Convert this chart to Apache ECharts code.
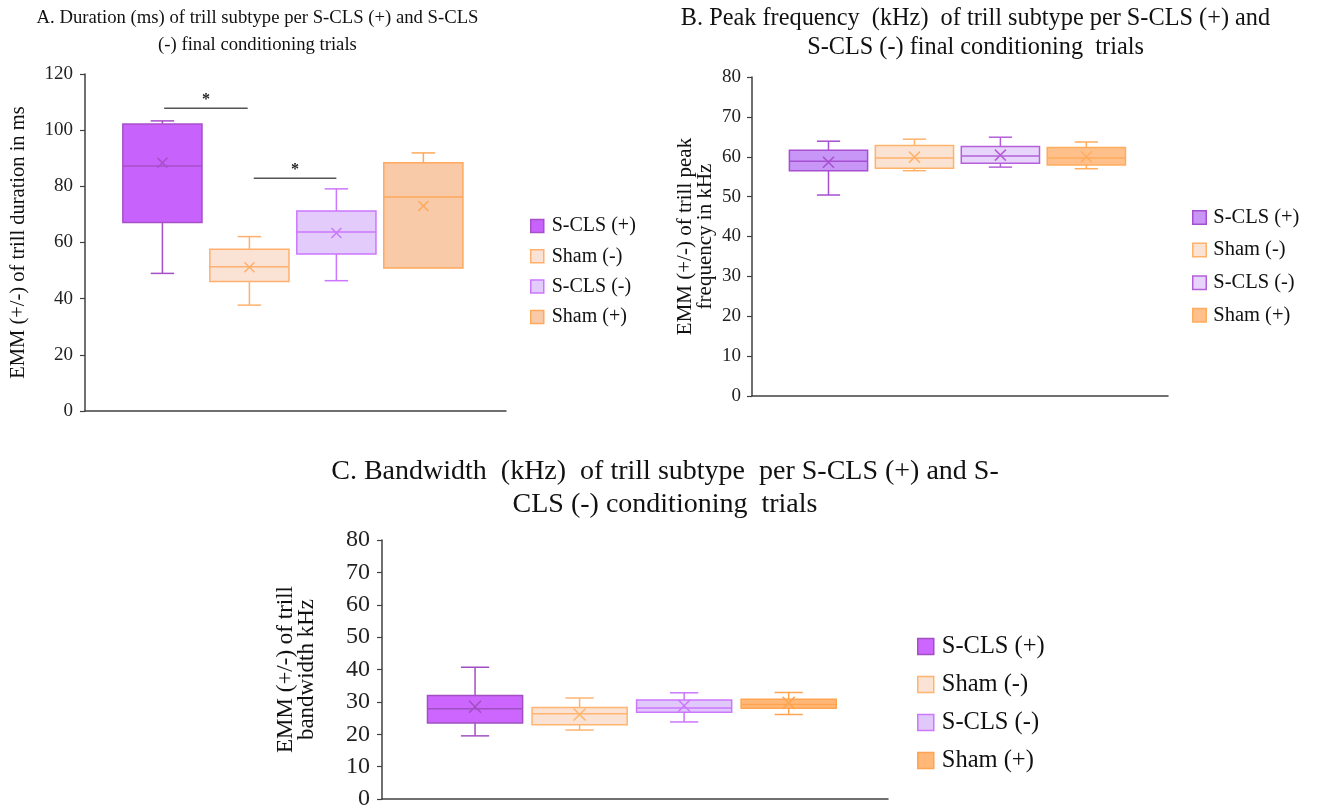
<!DOCTYPE html>
<html>
<head>
<meta charset="utf-8">
<script src="https://cdn.jsdelivr.net/npm/echarts@6/dist/echarts.min.js"></script>
<style>
html,body{margin:0;padding:0;background:#fff;}
#chart{width:1317px;height:811px;}
</style>
</head>
<body>
<div id="chart"></div>
<script>
// ---------- data ----------
const groups = ['S-CLS (+)', 'Sham (-)', 'S-CLS (-)', 'Sham (+)'];
// each row: [min, Q1, median, Q3, max, mean]
const durationStats = [
  [49.0, 67.1, 87.2, 102.2, 103.3, 88.4],
  [37.7, 46.1, 51.4, 57.6, 62.1, 51.2],
  [46.4, 55.9, 63.7, 71.2, 79.1, 63.4],
  [50.9, 50.9, 76.2, 88.4, 91.9, 73.0]
];
const peakStats = [
  [50.4, 56.5, 58.9, 61.6, 63.9, 58.6],
  [56.5, 57.1, 59.7, 62.8, 64.4, 59.9],
  [57.4, 58.4, 60.2, 62.6, 64.9, 60.4],
  [57.0, 57.9, 59.7, 62.3, 63.7, 60.0]
];
const bandStats = [
  [19.5, 23.5, 27.9, 32.0, 40.7, 28.5],
  [21.3, 22.9, 26.3, 28.3, 31.2, 26.1],
  [23.8, 26.8, 28.1, 30.6, 32.8, 28.8],
  [26.1, 28.0, 29.2, 30.8, 32.9, 29.7]
];
// significance bars in panel A: [fromGroup, toGroup, level]
const sigBars = [
  [0.02, 0.98, 107.8],
  [1.05, 2.0, 82.9]
];
const sigLabel = '*';

const titleA = 'A. Duration (ms) of trill subtype per S-CLS (+) and S-CLS\n(-) final conditioning trials';
const titleB = 'B. Peak frequency  (kHz)  of trill subtype per S-CLS (+) and\nS-CLS (-) final conditioning  trials';
const titleC = 'C. Bandwidth  (kHz)  of trill subtype  per S-CLS (+) and S-\nCLS (-) conditioning  trials';
const yNameA = 'EMM (+/-) of trill duration in ms';
const yNameB = 'EMM (+/-) of trill peak\nfrequency in kHz';
const yNameC = 'EMM (+/-) of trill\nbandwidth kHz';

// ---------- styles ----------
const FONT = '"Liberation Serif", "Times New Roman", serif';
const palettes = {
  A: [['#c862fc', '#a650c8'], ['#fae3d5', '#ffb06e'], ['#e3cbfc', '#cc77ff'], ['#f8caa8', '#ffa95c']],
  B: [['#c896f6', '#a64fd0'], ['#fbe3d3', '#ffb26a'], ['#e8d5fb', '#b460d8'], ['#ffc08c', '#ffac5c']],
  C: [['#cc66ff', '#a050c0'], ['#fae2d4', '#ffb570'], ['#e0c8fa', '#cc77ff'], ['#ffb877', '#ffa450']]
};
const BOXW = 0.91, CAPW = 0.27;

function boxRender(fill, stroke, xHalf) {
  return function (params, api) {
    const x = api.value(0);
    const mn = api.value(1), q1 = api.value(2), md = api.value(3),
          q3 = api.value(4), mx = api.value(5), mean = api.value(6);
    const cx = api.coord([x, 0])[0];
    const hw = api.coord([x + BOXW / 2, 0])[0] - cx;
    const ch = api.coord([x + CAPW / 2, 0])[0] - cx;
    const Y = v => api.coord([x, v])[1];
    const ls = { stroke: stroke, lineWidth: 1.5, fill: null };
    const kids = [];
    if (mx > q3) {
      kids.push({ type: 'line', shape: { x1: cx, y1: Y(q3), x2: cx, y2: Y(mx) }, style: ls });
      kids.push({ type: 'line', shape: { x1: cx - ch, y1: Y(mx), x2: cx + ch, y2: Y(mx) }, style: ls });
    }
    if (mn < q1) {
      kids.push({ type: 'line', shape: { x1: cx, y1: Y(q1), x2: cx, y2: Y(mn) }, style: ls });
      kids.push({ type: 'line', shape: { x1: cx - ch, y1: Y(mn), x2: cx + ch, y2: Y(mn) }, style: ls });
    }
    kids.push({ type: 'rect', shape: { x: cx - hw, y: Y(q3), width: 2 * hw, height: Y(q1) - Y(q3) },
      style: { fill: fill, stroke: stroke, lineWidth: 1.5 } });
    kids.push({ type: 'line', shape: { x1: cx - hw, y1: Y(md), x2: cx + hw, y2: Y(md) }, style: ls });
    const my = Y(mean), s = xHalf;
    kids.push({ type: 'line', shape: { x1: cx - s, y1: my - s, x2: cx + s, y2: my + s }, style: ls });
    kids.push({ type: 'line', shape: { x1: cx - s, y1: my + s, x2: cx + s, y2: my - s }, style: ls });
    return { type: 'group', children: kids };
  };
}

function sigRender(params, api) {
  const p1 = api.coord([api.value(0), api.value(2)]);
  const p2 = api.coord([api.value(1), api.value(2)]);
  return {
    type: 'group',
    children: [
      { type: 'line', shape: { x1: p1[0], y1: p1[1], x2: p2[0], y2: p2[1] },
        style: { stroke: '#555', lineWidth: 1.5 } },
      { type: 'text', style: { text: sigLabel, x: (p1[0] + p2[0]) / 2, y: p1[1] - 8,
        align: 'center', verticalAlign: 'middle', font: 'bold 16px ' + FONT, fill: '#222' } }
    ]
  };
}

// panel layouts
const panels = [
  { key: 'A', stats: durationStats, grid: { left: 85, top: 74, width: 421, height: 337 },
    max: 120, interval: 20, yName: yNameA, nameGap: 55, labelSize: 19, nameSize: 20.5, nameLH: 22.5, labelMargin: 12, xHalf: 5,
    legend: { left: 530, top: 215, fontSize: 20, lineHeight: 22, gap: 8.3, icon: 13, pad: 3 } },
  { key: 'B', stats: peakStats, grid: { left: 752, top: 77, width: 416, height: 319 },
    max: 80, interval: 10, yName: yNameB, nameGap: 36.5, labelSize: 19, nameSize: 21, nameLH: 20, labelMargin: 11, xHalf: 5.5,
    legend: { left: 1192, top: 206.5, fontSize: 20.5, lineHeight: 22, gap: 10.6, icon: 13.5, pad: 2 } },
  { key: 'C', stats: bandStats, grid: { left: 382, top: 540, width: 506, height: 259 },
    max: 80, interval: 10, yName: yNameC, nameGap: 64.5, labelSize: 24, nameSize: 23, nameLH: 21, labelMargin: 12, xHalf: 6,
    legend: { left: 917, top: 633.5, fontSize: 24.5, lineHeight: 26, gap: 12, icon: 16, pad: 3 } }
];

const option = {
  backgroundColor: '#fff',
  animation: false,
  textStyle: { fontFamily: FONT },
  title: [
    { text: titleA, left: 257.5, top: 5, padding: 0, textAlign: 'center',
      textStyle: { fontFamily: FONT, fontSize: 18.7, fontWeight: 'normal', color: '#111', lineHeight: 27 } },
    { text: titleB, left: 975.5, top: 4, padding: 0, textAlign: 'center',
      textStyle: { fontFamily: FONT, fontSize: 24.3, fontWeight: 'normal', color: '#111', lineHeight: 29 } },
    { text: titleC, left: 665, top: 455.5, padding: 0, textAlign: 'center',
      textStyle: { fontFamily: FONT, fontSize: 28, fontWeight: 'normal', color: '#111', lineHeight: 33 } }
  ],
  grid: [], xAxis: [], yAxis: [], legend: [], series: []
};

panels.forEach(function (p, pi) {
  option.grid.push(Object.assign({ containLabel: false }, p.grid));
  option.xAxis.push({
    gridIndex: pi, type: 'value', min: -0.89, max: 3.95,
    axisLine: { show: true, onZero: false, lineStyle: { color: '#404040', width: 1.5 } },
    axisTick: { show: false }, axisLabel: { show: false }, splitLine: { show: false }
  });
  option.yAxis.push({
    gridIndex: pi, type: 'value', min: 0, max: p.max, interval: p.interval,
    name: p.yName, nameLocation: 'middle', nameRotate: 90, nameGap: p.nameGap,
    nameTextStyle: { fontFamily: FONT, fontSize: p.nameSize, color: '#111', lineHeight: p.nameLH },
    axisLine: { show: true, onZero: false, lineStyle: { color: '#404040', width: 1.5 } },
    axisTick: { show: true, length: 5, lineStyle: { color: '#404040', width: 1.2 } },
    axisLabel: { fontFamily: FONT, fontSize: p.labelSize, color: '#222', margin: p.labelMargin },
    splitLine: { show: false }
  });
  const pal = palettes[p.key];
  option.legend.push({
    orient: 'vertical', left: p.legend.left, top: p.legend.top, padding: 0,
    itemWidth: p.legend.icon, itemHeight: p.legend.icon, itemGap: p.legend.gap,
    icon: 'rect', selectedMode: false,
    textStyle: { fontFamily: FONT, fontSize: p.legend.fontSize, color: '#111', lineHeight: p.legend.lineHeight, padding: [0, 0, 0, p.legend.pad] },
    data: groups.map(function (g, gi) {
      return { name: g, itemStyle: { color: pal[gi][0], borderColor: pal[gi][1], borderWidth: 1.5 } };
    })
  });
  groups.forEach(function (g, gi) {
    const s = p.stats[gi];
    option.series.push({
      name: g, type: 'custom', xAxisIndex: pi, yAxisIndex: pi, clip: false,
      itemStyle: { color: pal[gi][0], borderColor: pal[gi][1] },
      renderItem: boxRender(pal[gi][0], pal[gi][1], p.xHalf),
      encode: { x: 0, y: [1, 2, 3, 4, 5, 6] },
      data: [[gi].concat(s)]
    });
  });
});

option.series.push({
  name: 'significance', type: 'custom', xAxisIndex: 0, yAxisIndex: 0, clip: false,
  renderItem: sigRender, encode: { x: [0, 1], y: 2 }, data: sigBars
});

const chart = echarts.init(document.getElementById('chart'), null, { renderer: 'canvas' });
chart.setOption(option);
</script>
</body>
</html>
